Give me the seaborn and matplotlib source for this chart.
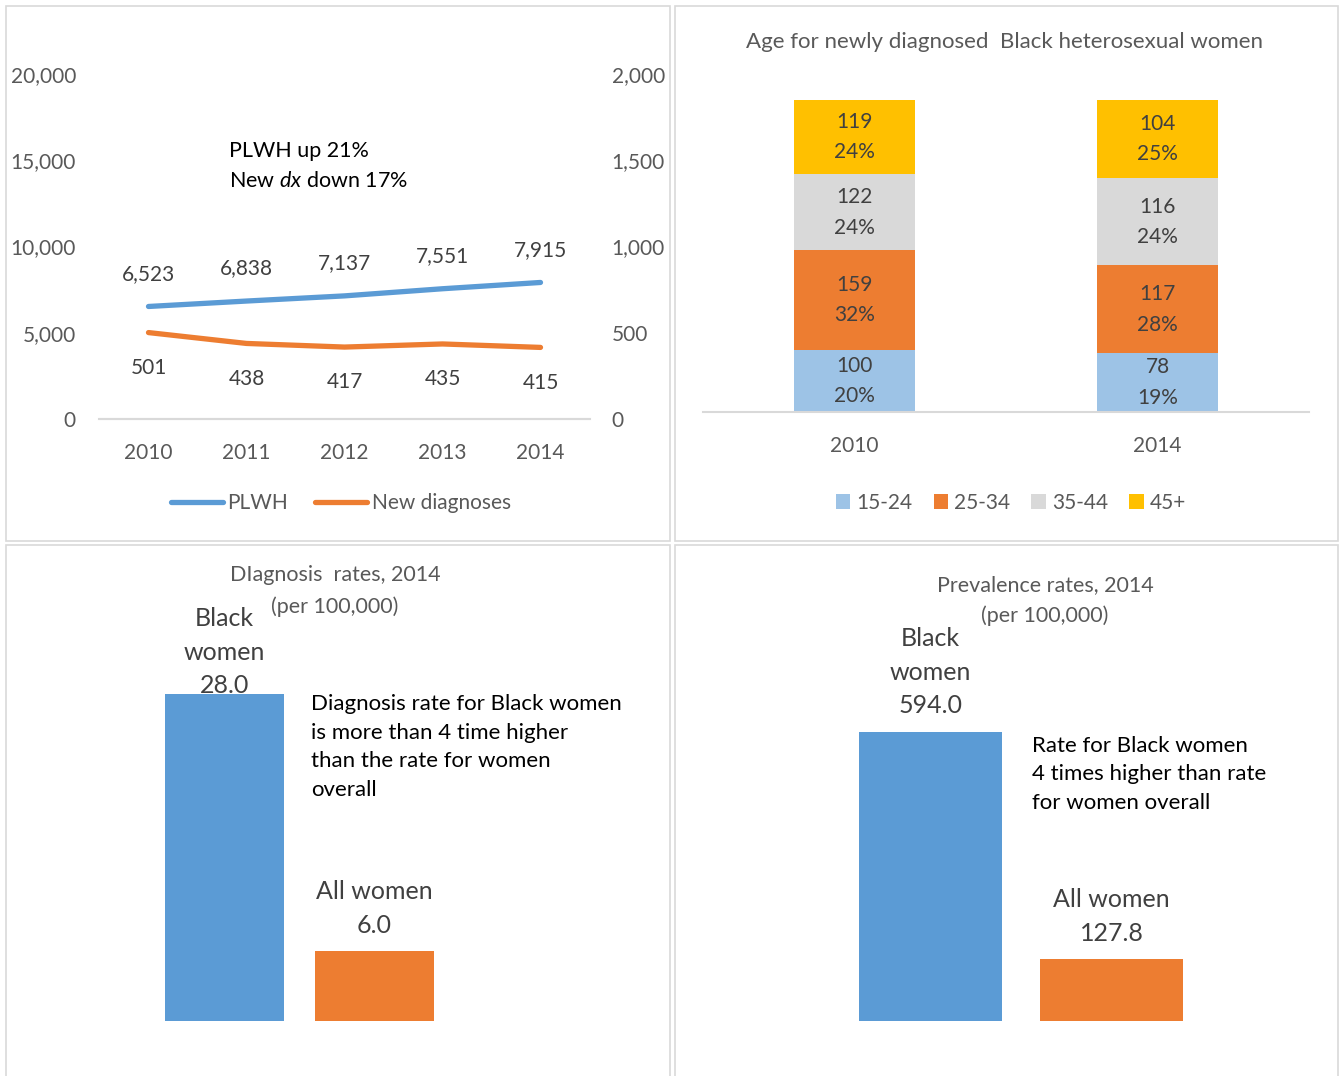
import matplotlib
matplotlib.use("Agg")
import matplotlib.pyplot as plt
from matplotlib.lines import Line2D
from matplotlib.patches import Patch, Rectangle
import numpy as np
import pandas as pd
import seaborn as sns

# ---------------- data ----------------
years = [2010, 2011, 2012, 2013, 2014]
plwh = [6523, 6838, 7137, 7551, 7915]
new_dx = [501, 438, 417, 435, 415]

age_years = ["2010", "2014"]
age_groups = ["15-24", "25-34", "35-44", "45+"]
age_counts = {
    "2010": [100, 159, 122, 119],
    "2014": [78, 117, 116, 104],
}
age_pct_labels = {
    "2010": ["20%", "32%", "24%", "24%"],
    "2014": ["19%", "28%", "24%", "25%"],
}

groups = ["Black women", "All women"]
dx_rates = [28.0, 6.0]
prev_rates = [594.0, 127.8]

# ---------------- style ----------------
sns.set_theme(style="white")
plt.rcParams["font.family"] = ["Lato", "DejaVu Sans"]
plt.rcParams["mathtext.fontset"] = "custom"
plt.rcParams["mathtext.rm"] = "Lato"
plt.rcParams["mathtext.it"] = "Lato:italic"

BLUE = "#5B9BD5"
ORANGE = "#ED7D31"
LIGHT_BLUE = "#9DC3E6"
GRAY = "#D9D9D9"
GOLD = "#FFC000"
AX_TXT = "#595959"
LBL_TXT = "#404040"
LINE_CLR = "#D9D9D9"

W, H = 1339, 1076
fig = plt.figure(figsize=(W / 100, H / 100), dpi=100)
fig.patch.set_facecolor("white")


def fx(x):
    return x / W


def fy(y):
    return 1 - y / H


def add_axes_px(left, right, top, bottom):
    return fig.add_axes([fx(left), fy(bottom), (right - left) / W, (bottom - top) / H])


# panel frames
for (x0, y0, x1, y1) in [(6, 6, 670, 541), (675, 6, 1338, 541),
                         (6, 545, 670, 1080), (675, 545, 1338, 1080)]:
    fig.add_artist(Rectangle((fx(x0), fy(y1)), (x1 - x0) / W, (y1 - y0) / H,
                             transform=fig.transFigure, fill=False,
                             edgecolor=LINE_CLR, linewidth=1.2))

# ---------------- panel 1: PLWH and new diagnoses ----------------
ax1 = add_axes_px(99.5, 589.5, 74, 419)
ax1r = ax1.twinx()
sns.lineplot(x=years, y=plwh, ax=ax1, color=BLUE, linewidth=3.8,
             solid_capstyle="round")
sns.lineplot(x=years, y=new_dx, ax=ax1r, color=ORANGE, linewidth=3.8,
             solid_capstyle="round")
ax1.set_xlim(2009.5, 2014.5)
ax1.set_ylim(0, 20000)
ax1r.set_ylim(0, 2000)
ax1.set_xticks(years)
ax1.set_xticklabels([str(y) for y in years])
ax1.set_yticks(np.arange(0, 20001, 5000))
ax1.set_yticklabels([f"{v:,}" for v in range(0, 20001, 5000)])
ax1r.set_yticks(np.arange(0, 2001, 500))
ax1r.set_yticklabels([f"{v:,}" for v in range(0, 2001, 500)])
for a in (ax1, ax1r):
    a.set_xlabel("")
    a.set_ylabel("")
    a.patch.set_alpha(0)
    for s in ("top", "left", "right"):
        a.spines[s].set_visible(False)
    a.spines["bottom"].set_color(LINE_CLR)
    a.spines["bottom"].set_linewidth(1.5)
    a.tick_params(length=0, colors=AX_TXT, labelsize=15)
ax1.tick_params(axis="y", pad=17)
ax1r.tick_params(axis="y", pad=16)
ax1.tick_params(axis="x", pad=17)

for x, v in zip(years, plwh):
    ax1.annotate(f"{v:,}", (x, v), xytext=(0, 23.5), textcoords="offset points",
                 ha="center", va="center", fontsize=15, color=LBL_TXT)
for x, v in zip(years, new_dx):
    ax1r.annotate(f"{v:,}", (x, v), xytext=(0, -25.5), textcoords="offset points",
                  ha="center", va="center", fontsize=15, color=LBL_TXT)

fig.text(fx(229), fy(151), "PLWH up 21%", ha="left", va="center",
         fontsize=15.5, color="black")
fig.text(fx(229), fy(181), "New $\\mathit{dx}$ down 17%", ha="left", va="center",
         fontsize=15.5, color="black")

leg1 = ax1.legend(
    handles=[Line2D([], [], color=BLUE, lw=3.8, solid_capstyle="round"),
             Line2D([], [], color=ORANGE, lw=3.8, solid_capstyle="round")],
    labels=["PLWH", "New diagnoses"], loc="center",
    bbox_to_anchor=(fx(341), fy(503)), bbox_transform=fig.transFigure,
    ncol=2, frameon=False, fontsize=15, handlelength=2.5, handletextpad=0.2,
    columnspacing=1.3)
for t in leg1.get_texts():
    t.set_color(AX_TXT)

# ---------------- panel 2: age distribution (100% stacked) ----------------
ax2 = add_axes_px(703, 1309, 100, 412)
shares = {yr: np.array(age_counts[yr]) / np.sum(age_counts[yr]) for yr in age_years}
cum = {yr: np.cumsum(shares[yr]) for yr in age_years}
seg_colors = [LIGHT_BLUE, ORANGE, GRAY, GOLD]
# draw cumulative heights from the top layer down so each layer sits on the previous
for i in reversed(range(len(age_groups))):
    df = pd.DataFrame({"year": age_years, "top": [cum[yr][i] for yr in age_years]})
    sns.barplot(data=df, x="year", y="top", color=seg_colors[i], saturation=1,
                width=0.4, linewidth=0, ax=ax2)
for xi, yr in enumerate(age_years):
    for i in range(len(age_groups)):
        mid = cum[yr][i] - shares[yr][i] / 2
        ax2.text(xi, mid, f"{age_counts[yr][i]}\n{age_pct_labels[yr][i]}",
                 ha="center", va="center", fontsize=15, color=LBL_TXT,
                 linespacing=1.65)
ax2.set_xlim(-0.5, 1.5)
ax2.set_ylim(0, 1)
ax2.set_xlabel("")
ax2.set_ylabel("")
ax2.set_yticks([])
for s in ("top", "left", "right"):
    ax2.spines[s].set_visible(False)
ax2.spines["bottom"].set_color(LINE_CLR)
ax2.spines["bottom"].set_linewidth(1.5)
ax2.tick_params(axis="x", length=0, colors=AX_TXT, labelsize=15, pad=17)
fig.text(fx(1005), fy(42), "Age for newly diagnosed  Black heterosexual women",
         ha="center", va="center", fontsize=16, color=AX_TXT)
leg2 = ax2.legend(
    handles=[Patch(facecolor=c, edgecolor="none") for c in seg_colors],
    labels=age_groups, loc="center",
    bbox_to_anchor=(fx(1011), fy(503)), bbox_transform=fig.transFigure,
    ncol=4, frameon=False, fontsize=15, handlelength=0.7, handleheight=0.7,
    handletextpad=0.3, columnspacing=1.0)
for t in leg2.get_texts():
    t.set_color(AX_TXT)


# ---------------- panels 3 and 4: rate comparisons ----------------
def rate_panel(ax, values, ymax, top_offsets):
    df = pd.DataFrame({"group": groups, "rate": values})
    sns.barplot(data=df, x="group", y="rate", hue="group",
                palette=[BLUE, ORANGE], saturation=1, width=0.79,
                linewidth=0, legend=False, ax=ax)
    ax.set_xlim(-0.5, 1.5)
    ax.set_ylim(0, ymax)
    ax.axis("off")
    names = ["Black\nwomen", "All women"]
    for xi, (name, v, off) in enumerate(zip(names, values, top_offsets)):
        ax.annotate(f"{name}\n{v:.1f}", (xi, v), xytext=(0, off),
                    textcoords="offset points", ha="center", va="center",
                    fontsize=18, color=LBL_TXT, linespacing=1.55)


ax3 = add_axes_px(149.5, 449.5, 694, 1021)
rate_panel(ax3, dx_rates, dx_rates[0], [30, 30.5])
fig.text(fx(335), fy(591), "DIagnosis  rates, 2014\n(per 100,000)", ha="center",
         va="center", fontsize=15.5, color=AX_TXT, linespacing=1.65)
fig.text(fx(311), fy(747),
         "Diagnosis rate for Black women\nis more than 4 time higher\n"
         "than the rate for women\noverall",
         ha="left", va="center", fontsize=16, color="black", linespacing=1.55)

ax4 = add_axes_px(840, 1202, 732, 1021)
rate_panel(ax4, prev_rates, prev_rates[0], [43, 30.5])
fig.text(fx(1045), fy(600.5), "Prevalence rates, 2014\n(per 100,000)", ha="center",
         va="center", fontsize=15.5, color=AX_TXT, linespacing=1.65)
fig.text(fx(1032), fy(774.5),
         "Rate for Black women\n4 times higher than rate\nfor women overall",
         ha="left", va="center", fontsize=16, color="black", linespacing=1.55)

fig.savefig("out.png", dpi=100, facecolor="white")
